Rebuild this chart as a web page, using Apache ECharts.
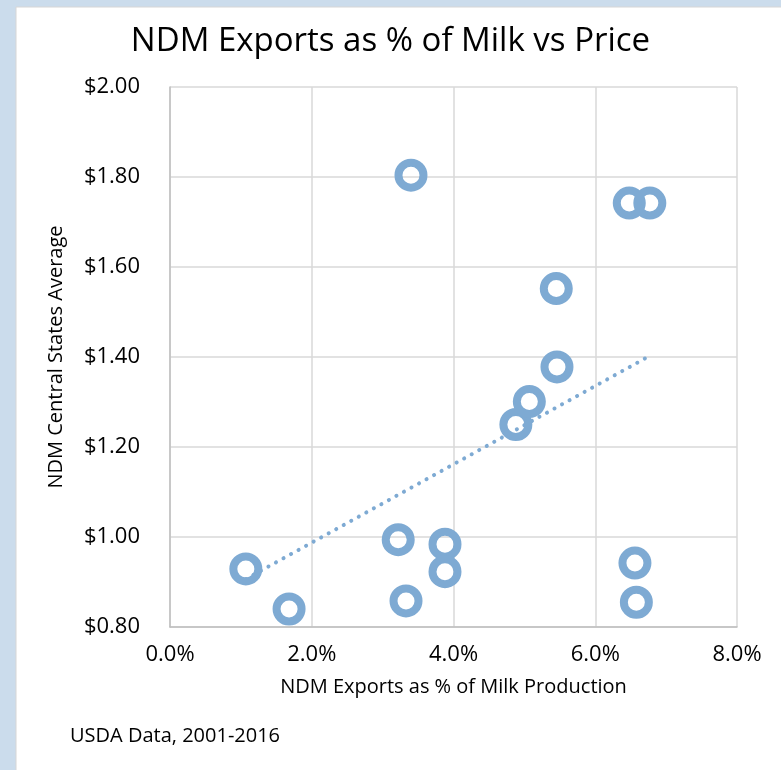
<!DOCTYPE html>
<html>
<head>
<meta charset="utf-8">
<script src="https://cdn.jsdelivr.net/npm/echarts@6/dist/echarts.min.js"></script>
<style>
html,body{margin:0;padding:0;background:#cbdcec;}
#chart{width:781px;height:770px;}
</style>
</head>
<body>
<div id="chart"></div>
<script>
// Data (x: NDM exports as % of milk production, y: $ price)
var exportPct = [1.07, 1.68, 3.22, 3.33, 3.88, 3.88, 3.40, 4.88, 5.07, 5.46, 5.45, 6.48, 6.77, 6.56, 6.58];
var ndmPrice  = [0.929, 0.840, 0.994, 0.858, 0.984, 0.923, 1.804, 1.250, 1.301, 1.378, 1.552, 1.742, 1.742, 0.942, 0.855];
var xTicks = [0, 2, 4, 6, 8];
var yTicks = [0.8, 1.0, 1.2, 1.4, 1.6, 1.8, 2.0];

var FONT = 'Open Sans';
var BLUE = '#7eaad3';

// linear least-squares trendline over the data range
var n = exportPct.length, sx = 0, sy = 0, sxx = 0, sxy = 0;
for (var i = 0; i < n; i++) { sx += exportPct[i]; sy += ndmPrice[i]; sxx += exportPct[i]*exportPct[i]; sxy += exportPct[i]*ndmPrice[i]; }
var slope = (n*sxy - sx*sy) / (n*sxx - sx*sx);
var icpt = (sy - slope*sx) / n;
var xMin = Math.min.apply(null, exportPct), xMax = Math.max.apply(null, exportPct);
var trend = [[xMin, icpt + slope*xMin], [xMax, icpt + slope*xMax]];

var points = exportPct.map(function (x, i) { return [x, ndmPrice[i]]; });

var chart = echarts.init(document.getElementById('chart'), null, {renderer: 'canvas'});
chart.setOption({
  backgroundColor: '#cbdcec',
  animation: false,
  graphic: [{
    type: 'rect', z: -10, silent: true,
    shape: {x: 16, y: 7, width: 781, height: 770},
    style: {fill: '#ffffff', stroke: '#d6d6d6', lineWidth: 1}
  }, {
    type: 'text', left: 70, top: 726,
    style: {text: 'USDA Data, 2001-2016', font: '20px "' + FONT + '"', fill: '#000'}
  }],
  title: {
    text: 'NDM Exports as % of Milk vs Price',
    left: 'center', top: 20,
    textStyle: {fontFamily: FONT, fontSize: 33, fontWeight: 'normal', color: '#000'}
  },
  grid: {left: 170, right: 44, top: 87, bottom: 143, containLabel: false},
  xAxis: {
    type: 'value', min: 0, max: 8, interval: 2,
    name: 'NDM Exports as % of Milk Production',
    nameLocation: 'middle', nameGap: 50, nameMoveOverlap: false,
    nameTextStyle: {fontFamily: FONT, fontSize: 20, color: '#000'},
    axisLine: {show: true, lineStyle: {color: '#bfbfbf', width: 1.5}},
    axisTick: {show: false},
    splitLine: {show: true, lineStyle: {color: '#d9d9d9', width: 1.5}},
    axisLabel: {fontFamily: FONT, fontSize: 22, color: '#000', margin: 17,
      formatter: function (v) { return v.toFixed(1) + '%'; }}
  },
  yAxis: {
    type: 'value', min: 0.8, max: 2.0, interval: 0.2,
    name: 'NDM Central States Average',
    nameLocation: 'middle', nameGap: 104, nameRotate: 90, nameMoveOverlap: false,
    nameTextStyle: {fontFamily: FONT, fontSize: 20, color: '#000'},
    axisLine: {show: true, lineStyle: {color: '#bfbfbf', width: 1.5}},
    axisTick: {show: false},
    splitLine: {show: true, lineStyle: {color: '#d9d9d9', width: 1.5}},
    axisLabel: {fontFamily: FONT, fontSize: 22, color: '#000', margin: 30,
      formatter: function (v) { return '$' + v.toFixed(2); }}
  },
  series: [{
    type: 'line', data: trend, symbol: 'none', silent: true, z: 1,
    lineStyle: {color: BLUE, width: 4, type: [0.1, 8.5], cap: 'round'}
  }, {
    type: 'scatter', data: points, symbol: 'circle', symbolSize: 25, z: 2,
    itemStyle: {color: 'rgba(0,0,0,0)', borderColor: BLUE, borderWidth: 8, opacity: 1}
  }]
});
</script>
</body>
</html>
